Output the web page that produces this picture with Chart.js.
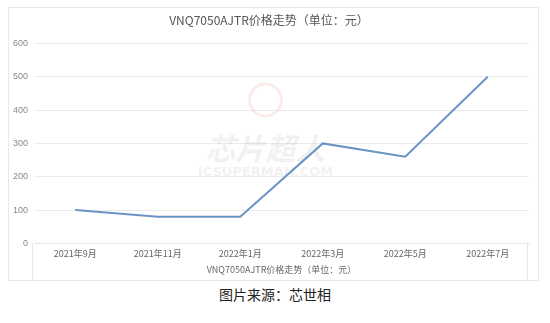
<!DOCTYPE html>
<html>
<head>
<meta charset="utf-8">
<script src="https://cdn.jsdelivr.net/npm/chart.js@4"></script>
<style>
  html, body { margin: 0; padding: 0; background: #fff; }
  body { width: 550px; height: 323px; position: relative; overflow: hidden; font-family: "Noto Sans CJK SC", "Noto Sans", sans-serif; }
  #box { position: absolute; left: 8px; top: 7px; width: 529px; height: 272px; border: 1px solid #e8e8e8; }
  #wrap { position: absolute; left: 0; top: 0; width: 529px; height: 272px; }
  #caption { position: absolute; left: 0; width: 550px; top: 284px; text-align: center; font-size: 14px; color: #222; }
</style>
</head>
<body>
<div id="box">
  <div id="wrap"><canvas id="c"></canvas></div>
</div>
<div id="caption">图片来源：芯世相</div>
<script>
const categories = ["2021年9月", "2021年11月", "2022年1月", "2022年3月", "2022年5月", "2022年7月"];
const prices = [100, 80, 80, 300, 260, 500];
const yTicks = [0, 100, 200, 300, 400, 500, 600];
const chartTitle = "VNQ7050AJTR价格走势（单位：元）";
const axisTitle = "VNQ7050AJTR价格走势（单位：元）";

const watermark = {
  id: 'watermark',
  beforeDatasetsDraw(chart) {
    const ctx = chart.ctx, a = chart.chartArea;
    const cx = (a.left + a.right) / 2 - 16;
    ctx.save();
    ctx.strokeStyle = 'rgba(230,120,120,0.15)';
    ctx.lineWidth = 3;
    ctx.beginPath();
    ctx.arc(cx, 92, 16, 0, Math.PI * 2);
    ctx.stroke();
    ctx.fillStyle = 'rgba(170,170,170,0.16)';
    ctx.font = 'italic bold 30px "Noto Sans CJK SC"';
    ctx.textAlign = 'center';
    ctx.textBaseline = 'middle';
    ctx.fillText('芯片超人', cx, 141);
    ctx.font = 'bold 13px "DejaVu Sans"';
    ctx.fillText('ICSUPERMAN.COM', cx, 165);
    ctx.restore();
  }
};

const axisBox = {
  id: 'axisBox',
  afterDraw(chart) {
    const ctx = chart.ctx, a = chart.chartArea;
    ctx.save();
    ctx.strokeStyle = '#e6e6e6';
    ctx.lineWidth = 1;
    ctx.beginPath();
    ctx.moveTo(Math.round(a.left) - 1.5, a.bottom);
    ctx.lineTo(Math.round(a.left) - 1.5, chart.height);
    ctx.moveTo(Math.round(a.right) - 1.5, a.bottom);
    ctx.lineTo(Math.round(a.right) - 1.5, chart.height);
    ctx.stroke();
    ctx.restore();
  }
};

new Chart(document.getElementById('c'), {
  type: 'line',
  data: {
    labels: categories,
    datasets: [{
      data: prices,
      borderColor: '#6b94c6',
      borderWidth: 2,
      pointRadius: 0,
      tension: 0,
      fill: false
    }]
  },
  options: {
    responsive: true,
    maintainAspectRatio: false,
    animation: false,
    layout: { padding: { left: 0, right: 9, top: 0, bottom: 0 } },
    plugins: {
      legend: { display: false },
      tooltip: { enabled: false },
      title: {
        display: true,
        text: chartTitle,
        color: '#555',
        font: { family: '"Noto Sans CJK SC"', size: 12, weight: 'normal' },
        padding: { top: 5, bottom: 16 }
      }
    },
    scales: {
      x: {
        offset: true,
        grid: { display: false, drawTicks: false },
        border: { display: true, color: '#e6e6e6' },
        ticks: { color: '#666', font: { family: '"Noto Sans CJK SC"', size: 9 }, padding: 5, maxRotation: 0 },
        title: { display: true, text: axisTitle, color: '#666', font: { family: '"Noto Sans CJK SC"', size: 9 }, padding: { top: 0, bottom: 5 } }
      },
      y: {
        min: 0,
        max: 600,
        afterBuildTicks(s) { s.ticks = yTicks.map(v => ({ value: v })); },
        afterFit(s) { s.width = 25; },
        grid: { color: '#ebebeb', drawTicks: false },
        border: { display: false },
        ticks: { color: '#888', font: { family: '"Liberation Sans"', size: 9 }, padding: 6 }
      }
    }
  },
  plugins: [watermark, axisBox]
});
</script>
</body>
</html>
